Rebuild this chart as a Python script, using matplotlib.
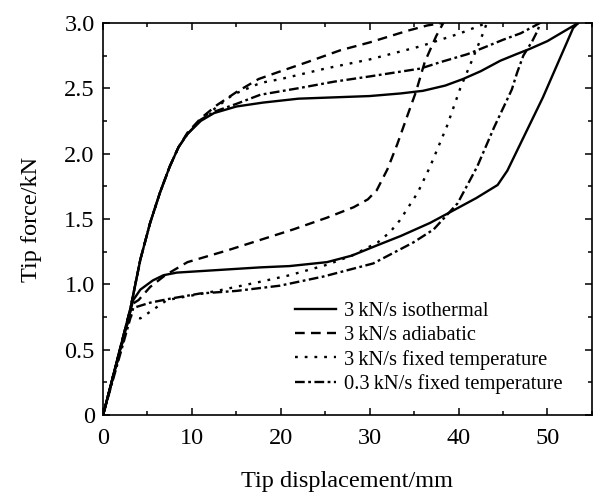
import matplotlib
matplotlib.use("Agg")
import matplotlib.pyplot as plt
from matplotlib.ticker import MultipleLocator

plt.rcParams['font.family'] = ['Liberation Serif', 'DejaVu Serif']
plt.rcParams['lines.scale_dashes'] = False

# force-displacement loops, loading branch followed by unloading branch
iso_x = [0, 3.1, 4.2, 5.3, 6.4, 7.5, 8.5, 9.5, 11, 12.5, 15, 18, 22, 26, 30, 33.5, 36, 38.5, 40.5,
         42.5, 44.7, 46.5, 48, 50, 53.5,
         52.9, 49.5, 47.5, 45.5, 44.4, 42, 39, 36.8, 33.5, 30.9, 28, 25.2, 21, 17.7, 13, 8.3, 6.8,
         5.6, 4.2, 3.4, 0]
iso_y = [0, 0.82, 1.19, 1.47, 1.70, 1.90, 2.05, 2.15, 2.25, 2.31, 2.36, 2.39, 2.42, 2.43, 2.44, 2.46,
         2.48, 2.52, 2.57, 2.63, 2.71, 2.76, 2.80, 2.86, 3.0,
         2.96, 2.43, 2.15, 1.87, 1.76, 1.66, 1.55, 1.47, 1.37, 1.30, 1.22, 1.17, 1.14, 1.13, 1.11,
         1.09, 1.07, 1.03, 0.96, 0.88, 0]

adi_x = [0, 3.1, 4.2, 5.3, 6.4, 7.5, 8.5, 9.5, 11, 12.8, 15, 17.5, 20, 23, 26.7, 30, 34.3, 36.5, 38.3,
         37.5, 36.2, 35.2, 34.3, 33.1, 32, 30.8, 29.8, 28.2, 25.2, 21.4, 17.7, 14, 9.5, 7, 5.3, 4, 3.3, 0]
adi_y = [0, 0.82, 1.19, 1.47, 1.70, 1.90, 2.05, 2.16, 2.27, 2.37, 2.47, 2.57, 2.63, 2.70, 2.79, 2.85,
         2.94, 2.98, 3.0,
         2.90, 2.70, 2.47, 2.30, 2.07, 1.88, 1.72, 1.65, 1.59, 1.51, 1.42, 1.34, 1.26, 1.17, 1.07,
         0.98, 0.88, 0.85, 0]

fix_x = [0, 3.1, 4.2, 5.3, 6.4, 7.5, 8.5, 9.5, 11, 12.5, 14.6, 17.7, 20, 25, 30, 35.7, 40.2, 43.2,
         42.7, 41.5, 40.2, 38.7, 36.8, 35.4, 33.4, 32.3, 30.9, 28, 25.2, 21, 17.7, 12.8, 7.2, 5.5,
         4.2, 3.0, 0]
fix_y = [0, 0.82, 1.19, 1.47, 1.70, 1.90, 2.05, 2.15, 2.26, 2.34, 2.45, 2.54, 2.57, 2.65, 2.72, 2.82,
         2.92, 3.0,
         2.91, 2.71, 2.50, 2.21, 1.90, 1.70, 1.49, 1.40, 1.32, 1.22, 1.15, 1.07, 1.02, 0.95, 0.88,
         0.80, 0.74, 0.76, 0]

slow_x = [0, 3.1, 4.2, 5.3, 6.4, 7.5, 8.5, 9.5, 11, 12.5, 15, 17.7, 22, 26, 30, 35.7, 38, 41, 43.2,
          45, 47, 48.1, 49.2,
          48.9, 48.3, 47.3, 46.6, 46, 44, 42.1, 39.9, 37.2, 34.9, 30.4, 24.8, 19.9, 15, 10.9, 7.5,
          5.3, 3.4, 0]
slow_y = [0, 0.82, 1.19, 1.47, 1.70, 1.90, 2.05, 2.15, 2.26, 2.32, 2.38, 2.45, 2.50, 2.55, 2.59,
          2.65, 2.70, 2.76, 2.82, 2.87, 2.92, 2.96, 3.0,
          2.94, 2.86, 2.75, 2.62, 2.49, 2.20, 1.90, 1.62, 1.42, 1.32, 1.16, 1.06, 0.99, 0.95, 0.93,
          0.89, 0.86, 0.82, 0]

labels = ['3\u2009kN/s isothermal', '3\u2009kN/s adiabatic',
          '3\u2009kN/s fixed temperature', '0.3\u2009kN/s fixed temperature']

fig = plt.figure(figsize=(5.99, 4.96), dpi=100)
ax = fig.add_axes([0.172, 0.163, 0.816, 0.791])

lw = 1.7
ax.plot(iso_x, iso_y, color='black', lw=lw, label=labels[0])
ax.plot(adi_x, adi_y, color='black', lw=lw, dashes=(7, 4.5), label=labels[1])
ax.plot(fix_x, fix_y, color='black', lw=lw, dashes=(2, 5), label=labels[2])
ax.plot(slow_x, slow_y, color='black', lw=lw, dashes=(7, 2.5, 2, 2.5), label=labels[3])

ax.set_xlim(0, 55)
ax.set_ylim(0, 3.0)
ax.xaxis.set_major_locator(MultipleLocator(10))
ax.xaxis.set_minor_locator(MultipleLocator(5))
ax.yaxis.set_major_locator(MultipleLocator(0.5))
ax.yaxis.set_minor_locator(MultipleLocator(0.25))
ax.set_yticks([0, 0.5, 1.0, 1.5, 2.0, 2.5, 3.0])
ax.set_yticklabels(['0', '0.5', '1.0', '1.5', '2.0', '2.5', '3.0'])
ax.tick_params(which='both', direction='in', top=True, right=True, labelsize=17.5, width=1.1)
ax.tick_params(which='major', length=5)
ax.tick_params(axis='x', which='major', pad=9)
ax.tick_params(axis='y', which='major', pad=6)
ax.tick_params(which='minor', length=3)
for s in ax.spines.values():
    s.set_linewidth(1.2)

ax.set_xlabel('Tip displacement/mm', fontsize=17.5, labelpad=16)
ax.set_ylabel('Tip force/kN', fontsize=17.5, labelpad=16)

ax.legend(loc='lower right', bbox_to_anchor=(0.94, 0.054), frameon=False, fontsize=14.8,
          handlelength=2.0, handletextpad=0.4, labelspacing=0.22, borderpad=0, borderaxespad=0)

fig.savefig('out.png', dpi=100)
